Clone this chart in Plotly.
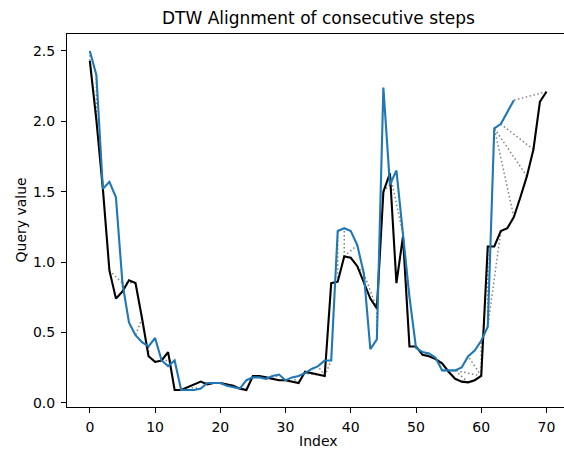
import numpy as np
import plotly.graph_objects as go

# Query series (black) - 71 points
query = [2.43, 2.01, 1.52, 0.94, 0.74, 0.79, 0.87, 0.85, 0.60, 0.33,
         0.29, 0.30, 0.36, 0.09, 0.09, 0.11, 0.13, 0.15, 0.13, 0.14,
         0.14, 0.13, 0.12, 0.10, 0.09, 0.19, 0.19, 0.18, 0.17, 0.16,
         0.16, 0.15, 0.14, 0.22, 0.21, 0.20, 0.19, 0.85, 0.86, 1.04,
         1.03, 0.97, 0.85, 0.74, 0.67, 1.50, 1.63, 0.85, 1.18, 0.40,
         0.40, 0.34, 0.33, 0.31, 0.28, 0.22, 0.17, 0.15, 0.145, 0.16,
         0.19, 1.11, 1.11, 1.22, 1.24, 1.32, 1.46, 1.61, 1.80, 2.14,
         2.21]

# Reference series (blue) - 66 points
reference = [2.50, 2.33, 1.52, 1.57, 1.46, 0.85, 0.57, 0.48, 0.43, 0.40,
             0.46, 0.30, 0.26, 0.30, 0.09, 0.09, 0.09, 0.10, 0.14, 0.14,
             0.14, 0.12, 0.11, 0.10, 0.16, 0.18, 0.18, 0.17, 0.19, 0.20,
             0.16, 0.18, 0.19, 0.21, 0.24, 0.26, 0.30, 0.30, 1.22, 1.24,
             1.22, 1.12, 0.92, 0.38, 0.45, 2.24, 1.55, 1.65, 1.20, 0.75,
             0.39, 0.36, 0.35, 0.32, 0.23, 0.23, 0.23, 0.25, 0.33, 0.37,
             0.44, 0.54, 1.95, 1.98, 2.07, 2.15]

x_ticks = [0, 10, 20, 30, 40, 50, 60, 70]
y_ticks = [0.0, 0.5, 1.0, 1.5, 2.0, 2.5]
y_tick_text = ["0.0", "0.5", "1.0", "1.5", "2.0", "2.5"]

q = np.array(query)
r = np.array(reference)
n, m = len(q), len(r)

# DTW (symmetric2 step pattern, euclidean local distance)
D = np.full((n, m), np.inf)
for i in range(n):
    for j in range(m):
        d = abs(q[i] - r[j])
        if i == 0 and j == 0:
            D[i, j] = d
            continue
        best = np.inf
        if i > 0 and j > 0:
            best = min(best, D[i - 1, j - 1] + 2 * d)
        if i > 0:
            best = min(best, D[i - 1, j] + d)
        if j > 0:
            best = min(best, D[i, j - 1] + d)
        D[i, j] = best

i, j = n - 1, m - 1
path = [(i, j)]
while (i, j) != (0, 0):
    d = abs(q[i] - r[j])
    cands = []
    if i > 0 and j > 0:
        cands.append((D[i - 1, j - 1] + 2 * d, 0, i - 1, j - 1))
    if i > 0:
        cands.append((D[i - 1, j] + d, 1, i - 1, j))
    if j > 0:
        cands.append((D[i, j - 1] + d, 2, i, j - 1))
    _, _, i, j = min(cands)
    path.append((i, j))
path.reverse()
idx1 = [p[0] for p in path]
idx2 = [p[1] for p in path]

sel = np.linspace(0, len(idx1) - 1).astype(int)
mx, my = [], []
for k in sel:
    a, b = idx1[k], idx2[k]
    mx += [a, b, None]
    my += [q[a], r[b], None]

fig = go.Figure()
fig.add_trace(go.Scatter(x=mx, y=my, mode="lines",
                         line=dict(color="gray", width=1.5, dash="1.5px,2.5px"),
                         hoverinfo="skip", showlegend=False))
fig.add_trace(go.Scatter(x=list(range(n)), y=query, mode="lines",
                         line=dict(color="black", width=2.1), showlegend=False))
fig.add_trace(go.Scatter(x=list(range(m)), y=reference, mode="lines",
                         line=dict(color="#1f77b4", width=2.1), showlegend=False))

allv = query + reference
lo, hi = min(allv), max(allv)
R = hi - lo
yr = [lo - 0.05 * R, hi + 0.05 * R]
xspan = (n - 1) * 1.1
xr = [-0.05 * (n - 1), -0.05 * (n - 1) + xspan * (497 / 502.3)]

W, H = 564, 449
L, T, B = 67, 34, 42
pw, ph = W - L, H - T - B

fig.update_layout(
    width=W, height=H,
    margin=dict(l=L, r=0, t=T, b=B),
    plot_bgcolor="white", paper_bgcolor="white",
    font=dict(family="DejaVu Sans", size=14, color="black"),
    title=dict(text="DTW Alignment of consecutive steps", font=dict(size=17, color="black"),
               x=(318.4 - L) / pw, xref="paper", xanchor="center",
               y=1 - 18 / H, yref="container", yanchor="middle"),
    xaxis=dict(range=xr, tickvals=x_ticks, ticks="outside", ticklen=5, tickwidth=1,
               tickcolor="black", showgrid=False, zeroline=False, showline=True,
               linecolor="black", linewidth=1, mirror=True, ticklabelstandoff=2,
               tickfont=dict(size=14, color="black")),
    yaxis=dict(range=yr, tickvals=y_ticks, ticktext=y_tick_text, ticks="outside",
               ticklen=5, tickwidth=1, tickcolor="black", showgrid=False,
               zeroline=False, showline=True, linecolor="black", linewidth=1,
               mirror=False, ticklabelstandoff=3, tickfont=dict(size=14, color="black")),
    annotations=[
        dict(text="Index", x=(318.4 - L) / pw, y=1 - (441 - T) / ph,
             xref="paper", yref="paper", xanchor="center", yanchor="middle",
             showarrow=False, font=dict(size=14, color="black")),
        dict(text="Query value", x=(20 - L) / pw, y=1 - (220.5 - T) / ph,
             xref="paper", yref="paper", xanchor="center", yanchor="middle",
             showarrow=False, textangle=-90, font=dict(size=14, color="black")),
    ],
)

fig.write_html("out.html")
